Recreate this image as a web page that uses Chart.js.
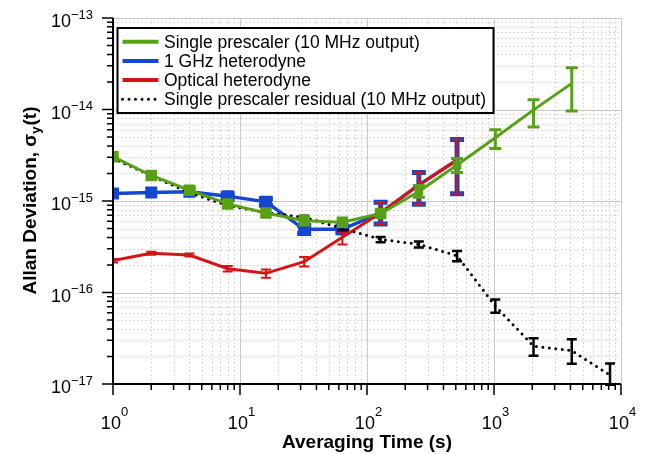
<!DOCTYPE html>
<html>
<head>
<meta charset="utf-8">
<script src="https://cdn.jsdelivr.net/npm/chart.js@4.4.1/dist/chart.umd.min.js"></script>
<style>
    html, body { margin: 0; padding: 0; background: #fff; }
    #wrap { width: 647px; height: 454px; }
</style>
</head>
<body>
<div id="wrap"><canvas id="adevChart"></canvas></div>
<script>
const tau = [1, 2, 4, 8, 16, 32, 64, 128, 256, 512, 1024, 2048, 4096, 8192];

const prescaler = [3.05e-15, 1.9e-15, 1.31e-15, 9.3e-16, 7.4e-16, 6.1e-16, 5.85e-16, 7.3e-16, 1.27e-15, 2.47e-15, 4.92e-15, 9.9e-15, 1.93e-14];
const prescalerLo = [null, null, null, null, null, null, null, null, 1.1e-15, 2.05e-15, 3.75e-15, 6.45e-15, 9.6e-15];
const prescalerHi = [null, null, null, null, null, null, null, null, 1.48e-15, 2.92e-15, 6.0e-15, 1.28e-14, 2.86e-14];

const ghz = [1.21e-15, 1.24e-15, 1.26e-15, 1.13e-15, 9.8e-16, 4.9e-16, 4.9e-16, 7.4e-16, 1.5e-15, 2.81e-15];
const ghzLo = [null, null, null, 1.05e-15, 9.0e-16, 4.4e-16, 4.5e-16, 5.6e-16, 9.2e-16, 1.2e-15];
const ghzHi = [null, null, null, 1.2e-15, 1.06e-15, 5.4e-16, 5.3e-16, 9.7e-16, 2.05e-15, 4.7e-15];

const optical = [2.23e-16, 2.68e-16, 2.57e-16, 1.82e-16, 1.62e-16, 2.17e-16, 4.01e-16, 7.4e-16, 1.5e-15, 2.81e-15];
const opticalLo = [2.13e-16, 2.58e-16, 2.47e-16, 1.7e-16, 1.45e-16, 1.92e-16, 3.35e-16, 5.6e-16, 9.2e-16, 1.2e-15];
const opticalHi = [2.33e-16, 2.78e-16, 2.67e-16, 1.95e-16, 1.78e-16, 2.45e-16, 4.6e-16, 9.7e-16, 2.05e-15, 4.7e-15];

const residual = [2.93e-15, 1.89e-15, 1.23e-15, 8.9e-16, 7.5e-16, 6.64e-16, 5.03e-16, 3.81e-16, 3.36e-16, 2.52e-16, 7.1e-17, 2.6e-17, 2.31e-17, 1.25e-17];
const residualLo = [2.85e-15, 1.84e-15, 1.19e-15, 8.6e-16, 7.25e-16, 6.35e-16, 4.8e-16, 3.55e-16, 3.1e-16, 2.2e-16, 6.0e-17, 2.04e-17, 1.66e-17, 9.5e-18];
const residualHi = [3.0e-15, 1.94e-15, 1.27e-15, 9.2e-16, 7.75e-16, 6.9e-16, 5.25e-16, 4.05e-16, 3.6e-16, 2.85e-16, 8.4e-17, 3.16e-17, 3.08e-17, 1.68e-17];

const xDecades = [0, 1, 2, 3, 4];
const yDecades = [-17, -16, -15, -14, -13];
const minorSteps = [2, 3, 4, 5, 6, 7, 8, 9];

const FONT = '"Liberation Sans", Arial, sans-serif';
const GREEN = "#58a016";
const BLUE = "#1446d2";
const RED = "#d61414";
const BLACK = "#000000";

const points = (vals) => vals.map((v, i) => ({ x: tau[i], y: v }));

// draws a "10^n" label
function drawPow(ctx, exp, x, baseY, supY, align) {
    const base = "10";
    const sup = exp < 0 ? "\u2212" + Math.abs(exp) : String(exp);
    ctx.font = "18px " + FONT;
    const wb = ctx.measureText(base).width;
    ctx.font = "13px " + FONT;
    const ws = ctx.measureText(sup).width;
    let start = align === "right" ? x - wb - ws : x - (wb + ws) / 2 + 1.5;
    ctx.textAlign = "left";
    ctx.textBaseline = "alphabetic";
    ctx.font = "18px " + FONT;
    ctx.fillText(base, start, baseY);
    ctx.font = "13px " + FONT;
    ctx.fillText(sup, start + wb, supY);
}

const axesPlugin = {
    id: "logAxes",
    beforeDatasetsDraw(chart) {
        const { ctx, chartArea: a, scales: { x, y } } = chart;
        ctx.save();
        ctx.lineWidth = 1;
        // minor grid
        ctx.strokeStyle = "#d9d9d9";
        ctx.setLineDash([2, 2]);
        ctx.beginPath();
        xDecades.slice(0, -1).forEach((d) => {
            minorSteps.forEach((m) => {
                const px = Math.round(x.getPixelForValue(m * Math.pow(10, d))) + 0.5;
                ctx.moveTo(px, a.top);
                ctx.lineTo(px, a.bottom);
            });
        });
        yDecades.slice(0, -1).forEach((d) => {
            minorSteps.forEach((m) => {
                const py = Math.round(y.getPixelForValue(m * Math.pow(10, d))) + 0.5;
                ctx.moveTo(a.left, py);
                ctx.lineTo(a.right, py);
            });
        });
        ctx.stroke();
        // major grid
        ctx.setLineDash([]);
        ctx.strokeStyle = "#c8c8c8";
        ctx.beginPath();
        xDecades.forEach((d) => {
            const px = Math.round(x.getPixelForValue(Math.pow(10, d))) + 0.5;
            ctx.moveTo(px, a.top);
            ctx.lineTo(px, a.bottom);
        });
        yDecades.forEach((d) => {
            const py = Math.round(y.getPixelForValue(Math.pow(10, d))) + 0.5;
            ctx.moveTo(a.left, py);
            ctx.lineTo(a.right, py);
        });
        ctx.stroke();
        ctx.restore();
    },
    afterDatasetDraw(chart, args) {
        const ds = chart.data.datasets[args.index];
        if (!ds.errLo) return;
        const { ctx, chartArea: a, scales: { x, y } } = chart;
        const cap = ds.errCap;
        ctx.save();
        ctx.beginPath();
        ctx.rect(a.left, a.top, a.width, a.height + 2);
        ctx.clip();
        ctx.setLineDash([]);
        ctx.lineCap = "butt";
        ctx.strokeStyle = ds.borderColor;
        ctx.lineWidth = ds.errWidth;
        ds.data.forEach((p, i) => {
            const lo = ds.errLo[i];
            const hi = ds.errHi[i];
            if (lo == null || hi == null) return;
            const px = x.getPixelForValue(p.x);
            const y1 = y.getPixelForValue(lo);
            const y2 = y.getPixelForValue(hi);
            ctx.beginPath();
            ctx.moveTo(px, y1);
            ctx.lineTo(px, y2);
            ctx.moveTo(px - cap, y1);
            ctx.lineTo(px + cap, y1);
            ctx.moveTo(px - cap, y2);
            ctx.lineTo(px + cap, y2);
            ctx.stroke();
        });
        ctx.restore();
    },
    afterDraw(chart) {
        const { ctx, chartArea: a, scales: { x, y } } = chart;
        ctx.save();
        ctx.strokeStyle = "#000";
        ctx.fillStyle = "#000";
        ctx.lineWidth = 2;
        ctx.setLineDash([]);

        // axis lines
        ctx.beginPath();
        ctx.moveTo(a.left, a.top);
        ctx.lineTo(a.left, a.bottom);
        ctx.lineTo(a.right, a.bottom);
        ctx.stroke();

        // ticks
        ctx.lineWidth = 1.5;
        ctx.beginPath();
        xDecades.forEach((d, k) => {
            const px = x.getPixelForValue(Math.pow(10, d));
            ctx.moveTo(px, a.bottom);
            ctx.lineTo(px, a.bottom + 11);
            if (k < xDecades.length - 1) {
                minorSteps.forEach((m) => {
                    const mx = x.getPixelForValue(m * Math.pow(10, d));
                    ctx.moveTo(mx, a.bottom);
                    ctx.lineTo(mx, a.bottom + 6);
                });
            }
        });
        yDecades.forEach((d, k) => {
            const py = y.getPixelForValue(Math.pow(10, d));
            ctx.moveTo(a.left, py);
            ctx.lineTo(a.left - 11, py);
            if (k < yDecades.length - 1) {
                minorSteps.forEach((m) => {
                    const my = y.getPixelForValue(m * Math.pow(10, d));
                    ctx.moveTo(a.left, my);
                    ctx.lineTo(a.left - 6, my);
                });
            }
        });
        ctx.stroke();

        // tick labels
        xDecades.forEach((d) => {
            const px = x.getPixelForValue(Math.pow(10, d));
            drawPow(ctx, d, px, a.bottom + 45, a.bottom + 32, "center");
        });
        yDecades.forEach((d) => {
            const py = y.getPixelForValue(Math.pow(10, d));
            drawPow(ctx, d, a.left - 20, py + 9, py + 0.5, "right");
        });

        // axis titles
        ctx.font = "bold 19px " + FONT;
        ctx.textAlign = "center";
        ctx.textBaseline = "alphabetic";
        ctx.fillText("Averaging Time (s)", (a.left + a.right) / 2, 448);

        ctx.save();
        ctx.translate(36, (a.top + a.bottom) / 2);
        ctx.rotate(-Math.PI / 2);
        const t1 = "Allan Deviation, \u03c3";
        const t2 = "y";
        const t3 = "(t)";
        ctx.font = "bold 19px " + FONT;
        const w1 = ctx.measureText(t1).width;
        const w3 = ctx.measureText(t3).width;
        ctx.font = "bold 13px " + FONT;
        const w2 = ctx.measureText(t2).width;
        let sx = -(w1 + w2 + w3) / 2;
        ctx.textAlign = "left";
        ctx.font = "bold 19px " + FONT;
        ctx.fillText(t1, sx, 0);
        ctx.font = "bold 13px " + FONT;
        ctx.fillText(t2, sx + w1, 4);
        ctx.font = "bold 19px " + FONT;
        ctx.fillText(t3, sx + w1 + w2 + 1, 0);
        ctx.restore();

        // legend
        const lx = 117.5, ly = 28, lw = 376, lh = 85;
        ctx.fillStyle = "#fff";
        ctx.fillRect(lx, ly, lw, lh);
        ctx.lineWidth = 2;
        ctx.strokeStyle = "#000";
        ctx.strokeRect(lx, ly, lw, lh);
        ctx.font = "17.5px " + FONT;
        ctx.textAlign = "left";
        chart.data.datasets.forEach((ds, i) => {
            const rowY = 41.7 + i * 19.2;
            ctx.strokeStyle = ds.borderColor;
            ctx.lineWidth = ds.borderDash ? 3 : 4;
            ctx.lineCap = ds.borderDash ? "round" : "butt";
            ctx.setLineDash(ds.borderDash ? [0, 6.5] : []);
            ctx.beginPath();
            ctx.moveTo(122.5, rowY);
            ctx.lineTo(158.5, rowY);
            ctx.stroke();
            ctx.setLineDash([]);
            ctx.fillStyle = "#000";
            ctx.fillText(ds.label, 164, rowY + 6);
        });
        ctx.restore();
    },
};

new Chart(document.getElementById("adevChart"), {
    type: "line",

    data: {
        datasets: [
            {
                label: "Single prescaler (10 MHz output)",
                data: points(prescaler),
                borderColor: GREEN,
                backgroundColor: GREEN,
                borderWidth: 3,
                pointStyle: "rect",
                pointRadius: (c) => (c.dataIndex <= 7 ? 6 : c.dataIndex <= 9 ? 4 : 0),
                errLo: prescalerLo,
                errHi: prescalerHi,
                errWidth: 3,
                errCap: 6,
                order: 0,
            },
            {
                label: "1 GHz heterodyne",
                data: points(ghz),
                borderColor: BLUE,
                backgroundColor: BLUE,
                borderWidth: 3.5,
                pointStyle: "rect",
                pointRadius: (c) => (c.dataIndex < 7 ? 6 : 0),
                errLo: ghzLo,
                errHi: ghzHi,
                errWidth: 5,
                errCap: 7,
                order: 3,
            },
            {
                label: "Optical heterodyne",
                data: points(optical),
                borderColor: RED,
                backgroundColor: RED,
                borderWidth: 3,
                pointRadius: 0,
                errLo: opticalLo,
                errHi: opticalHi,
                errWidth: 2,
                errCap: 5,
                order: 2,
            },
            {
                label: "Single prescaler residual (10 MHz output)",
                data: points(residual),
                borderColor: BLACK,
                backgroundColor: BLACK,
                borderWidth: 3,
                borderDash: [0, 6.5],
                borderCapStyle: "round",
                pointRadius: 0,
                errLo: residualLo,
                errHi: residualHi,
                errWidth: 2.5,
                errCap: 5,
                order: 1,
            },
        ],
    },

    options: {
        responsive: true,
        maintainAspectRatio: false,
        animation: false,
        events: [],
        layout: {
            padding: { left: 113, right: 26, top: 18, bottom: 70 },
        },
        plugins: {
            legend: { display: false },
            tooltip: { enabled: false },
        },
        scales: {
            x: {
                type: "logarithmic",
                min: 1,
                max: 10000,
                display: false,
            },
            y: {
                type: "logarithmic",
                min: 1e-17,
                max: 1e-13,
                display: false,
            },
        },
    },

    plugins: [axesPlugin],
});
</script>
</body>
</html>
